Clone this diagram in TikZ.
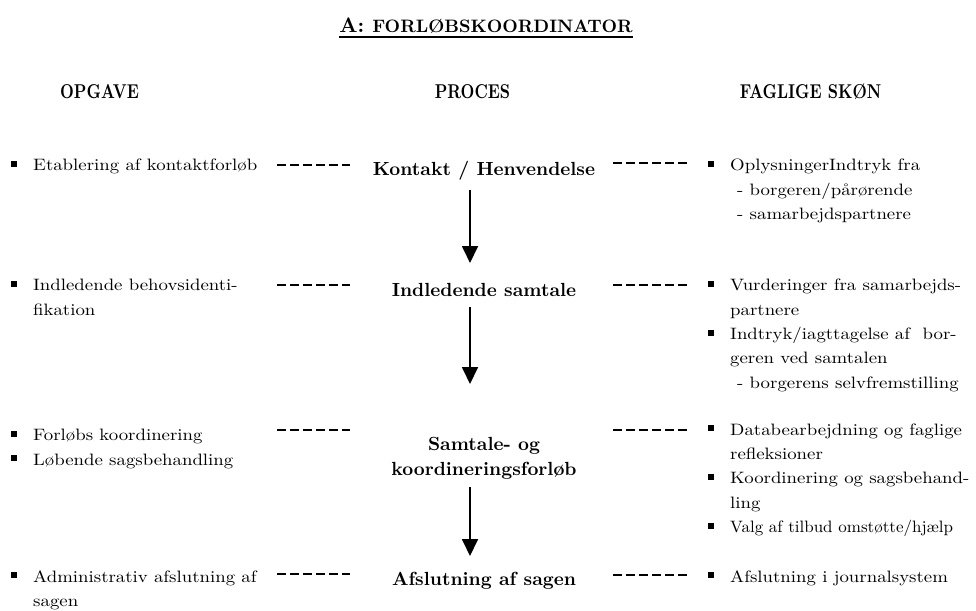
\documentclass[tikz,border=0pt]{standalone}
\usepackage{fontspec}
\usetikzlibrary{arrows.meta,calc}

% Fonts: a slightly widened roman for the body, plain bold for the process steps,
% a narrowed bold for the column headings
\newfontfamily\bodyfont{lmroman10-regular.otf}[FakeStretch=1.14]
\newfontfamily\bodynarrow{lmroman10-regular.otf}[FakeStretch=1.03]
\newfontfamily\procfont{lmroman10-bold.otf}
\newfontfamily\headfont{lmroman10-bold.otf}[FakeStretch=0.8]

% square list bullet hanging to the left of the text
\newcommand\sqbullet{\leavevmode\llap{\rule[3.7pt]{6pt}{6pt}\hspace{16.5pt}}}
% indented dash sub-item
\newcommand\subdash{\hspace*{7pt}- }

\tikzset{
  txt/.style={anchor=base west, inner sep=0pt,
    font=\bodyfont\fontsize{16.5}{24.4}\selectfont},
  proc/.style={anchor=base, inner sep=0pt,
    font=\procfont\fontsize{19}{25}\selectfont},
  head/.style={anchor=base, inner sep=0pt,
    font=\headfont\fontsize{20}{22}\selectfont},
  dashline/.style={line width=1.6pt, dash pattern=on 9pt off 4pt},
  flow/.style={line width=1.8pt, -{Triangle[length=17pt,width=16pt]}}
}

\begin{document}
\begin{tikzpicture}[x=1pt, y=-1pt]
  \fill[white] (0,0) rectangle (976,610);
  \useasboundingbox (0,0) rectangle (976,610);

  % columns of the dashed links and of the flow arrows
  \coordinate (L0) at (277,0);
  \coordinate (L1) at (350,0);
  \coordinate (R0) at (613,0);
  \coordinate (R1) at (688,0);
  \coordinate (AX) at (470,0);

  % title
  \node[anchor=base, inner sep=0pt] (title) at (486,33)
    {\procfont\fontsize{21}{24}\selectfont A: \fontsize{18}{22}\selectfont FORLØBSKOORDINATOR};
  \draw[line width=1.7pt] ($(title.base west)+(0,4)$) -- ($(title.base east)+(0,4)$);

  % column headings
  \node[head] (hopg) at (99.5,98) {OPGAVE};
  \node[head] (hproc) at (472.5,98) {PROCES};
  \node[head] (hfag) at (810.5,98) {FAGLIGE SKØN};

  % process steps
  \node[proc] (k1) at (484,175.7) {Kontakt / Henvendelse};
  \node[proc] (k2) at (484,296) {Indledende samtale};
  \node[proc] (k3) at (484,450)
    {\parbox[t]{260pt}{\centering Samtale- og\\koordineringsforløb}};
  \node[proc] (k4) at (484,585) {Afslutning af sagen};

  % tasks
  \node[txt] (o1) at (33,170.7) {\parbox[t]{300pt}{\raggedright
    \sqbullet Etablering af kontaktforløb}};
  \node[txt] (o2) at (33,290.7) {\parbox[t]{300pt}{\raggedright
    \sqbullet Indledende behovsidenti-\\fikation}};
  \node[txt] (o3) at (33,440.7) {\parbox[t]{300pt}{\raggedright
    \sqbullet Forløbs koordinering\\\sqbullet Løbende sagsbehandling}};
  \node[txt] (o4) at (33,582) {\parbox[t]{300pt}{\raggedright
    \sqbullet Administrativ afslutning af\\sagen}};

  % professional judgements
  \node[txt] (f1) at (730,170.7) {\parbox[t]{300pt}{\raggedright
    \sqbullet OplysningerIndtryk fra\\
    \subdash borgeren/pårørende\\
    \subdash samarbejdspartnere}};
  \node[txt] (f2) at (730,290.7) {\parbox[t]{300pt}{\raggedright
    \sqbullet Vurderinger fra samarbejds-\\
    partnere\\
    \sqbullet Indtryk/iagttagelse af\ \ bor-\\
    geren ved samtalen\\
    \subdash borgerens selvfremstilling}};
  \node[txt] (f3) at (730,435) {\parbox[t]{300pt}{\raggedright
    \sqbullet Databearbejdning og faglige\\
    refleksioner\\
    \sqbullet Koordinering og sagsbehand-\\
    ling\\
    \sqbullet {\bodynarrow Valg af tilbud omstøtte/hjælp}}};
  \node[txt] (f4) at (730,582) {\parbox[t]{300pt}{\raggedright
    \sqbullet Afslutning i journalsystem}};

  % dashed links task -- step -- judgement
  \draw[dashline] ($(o1.base -| L0)+(0,-5.7)$) -- ($(o1.base -| L1)+(0,-5.7)$);
  \draw[dashline] ($(o2.base -| L0)+(0,-5.7)$) -- ($(o2.base -| L1)+(0,-5.7)$);
  \draw[dashline] ($(o3.base -| L0)+(0,-10.7)$) -- ($(o3.base -| L1)+(0,-10.7)$);
  \draw[dashline] ($(o4.base -| L0)+(0,-8)$) -- ($(o4.base -| L1)+(0,-8)$);
  \draw[dashline] ($(f1.base -| R0)+(0,-7.7)$) -- ($(f1.base -| R1)+(0,-7.7)$);
  \draw[dashline] ($(f2.base -| R0)+(0,-5.7)$) -- ($(f2.base -| R1)+(0,-5.7)$);
  \draw[dashline] ($(f3.base -| R0)+(0,-5)$) -- ($(f3.base -| R1)+(0,-5)$);
  \draw[dashline] ($(f4.base -| R0)+(0,-7)$) -- ($(f4.base -| R1)+(0,-7)$);

  % flow between the steps
  \draw[flow] ($(k1.base -| AX)+(0,14.3)$) -- ($(k2.base -| AX)+(0,-33)$);
  \draw[flow] ($(k2.base -| AX)+(0,11)$) -- ($(k3.base -| AX)+(0,-66)$);
  \draw[flow] ($(k3.south -| AX)+(0,8.3)$) -- ($(k4.base -| AX)+(0,-29)$);
\end{tikzpicture}
\end{document}
